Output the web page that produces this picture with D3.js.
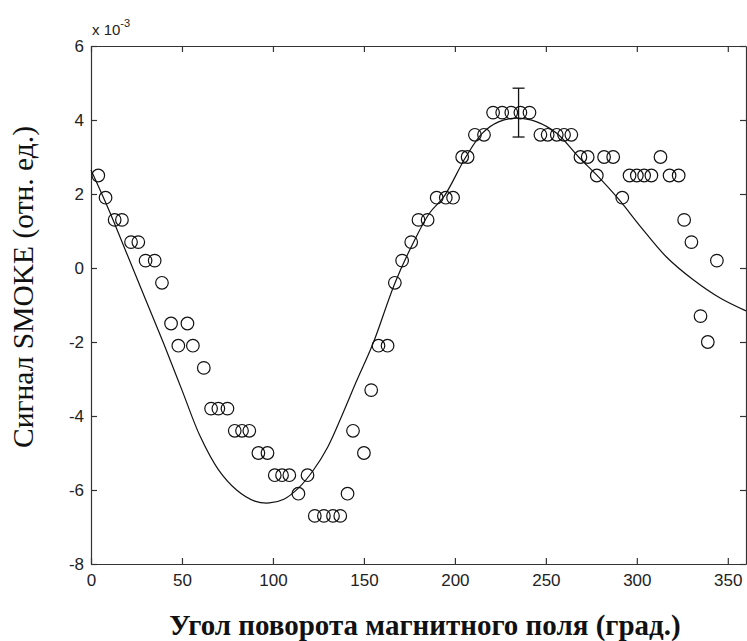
<!DOCTYPE html>
<html>
<head>
<meta charset="utf-8">
<script src="https://cdn.jsdelivr.net/npm/d3@7"></script>
<style>
  body { margin: 0; background: #fff; }
  svg { display: block; }
</style>
</head>
<body>
<svg id="chart"></svg>
<script>
// measured points (angle in degrees, signal in units of 1e-3)
var angles = [4, 8, 13, 17, 22, 26, 30, 35, 39, 44, 48, 53, 56, 62, 66, 70, 75, 79, 83, 87,
  92, 97, 101, 105, 109, 114, 119, 123, 128, 133, 137, 141, 144, 150, 154, 158, 163, 167, 171, 176,
  180, 185, 190, 195, 199, 204, 207, 211, 216, 221, 226, 231, 236, 241, 247, 251, 256, 260, 264, 269,
  273, 278, 282, 287, 292, 296, 300, 304, 308, 313, 318, 323, 326, 330, 335, 339, 344];
var signal = [2.5, 1.9, 1.3, 1.3, 0.7, 0.7, 0.2, 0.2, -0.4, -1.5, -2.1, -1.5, -2.1, -2.7, -3.8, -3.8, -3.8, -4.4, -4.4, -4.4,
  -5.0, -5.0, -5.6, -5.6, -5.6, -6.1, -5.6, -6.7, -6.7, -6.7, -6.7, -6.1, -4.4, -5.0, -3.3, -2.1, -2.1, -0.4, 0.2, 0.7,
  1.3, 1.3, 1.9, 1.9, 1.9, 3.0, 3.0, 3.6, 3.6, 4.2, 4.2, 4.2, 4.2, 4.2, 3.6, 3.6, 3.6, 3.6, 3.6, 3.0,
  3.0, 2.5, 3.0, 3.0, 1.9, 2.5, 2.5, 2.5, 2.5, 3.0, 2.5, 2.5, 1.3, 0.7, -1.3, -2.0, 0.2];

// fitted curve
var fitAngle = [0, 10, 20, 30, 40, 50, 60, 70, 80, 90, 98, 106, 114, 122, 130, 138, 146, 155, 167,
  177, 186, 194, 206, 215, 224, 234, 245, 256, 268, 278, 290, 302, 316, 331, 346, 360];
var fitSignal = [2.65, 1.55, 0.35, -0.85, -2.05, -3.3, -4.55, -5.45, -6.0, -6.3, -6.35, -6.25, -5.95, -5.48, -4.85, -3.98, -3.05, -2.04, -0.41,
  0.67, 1.48, 1.93, 3.0, 3.64, 3.95, 4.05, 3.95, 3.64, 3.0, 2.51, 1.86, 1.12, 0.31, -0.32, -0.82, -1.16];

// one error bar
var errAngle = [235];
var errLow = [3.54];
var errHigh = [4.86];

var xTicks = [0, 50, 100, 150, 200, 250, 300, 350];
var yTicks = [-8, -6, -4, -2, 0, 2, 4, 6];

var W = 747, H = 641;
var margin = {top: 46, right: 1, bottom: 77, left: 91};
var width = W - margin.left - margin.right;
var height = H - margin.top - margin.bottom;

var svg = d3.select('#chart').attr('width', W).attr('height', H);
var g = svg.append('g').attr('transform', 'translate(' + margin.left + ',' + margin.top + ')');

var x = d3.scaleLinear().domain([0, 360]).range([0, width]);
var y = d3.scaleLinear().domain([-8, 6]).range([height, 0]);

var tickFont = '"Liberation Sans", Arial, sans-serif';

function styleAxis(sel) {
  sel.select('.domain').attr('stroke', '#333').attr('stroke-width', 1.2);
  sel.selectAll('.tick line').attr('stroke', '#333').attr('stroke-width', 1.2);
  sel.selectAll('.tick text').attr('fill', '#222').style('font-family', tickFont).style('font-size', '17px');
}

g.append('g').attr('transform', 'translate(0,' + height + ')')
  .call(d3.axisBottom(x).tickValues(xTicks).tickSize(-6).tickSizeOuter(0).tickPadding(10))
  .call(styleAxis);
g.append('g')
  .call(d3.axisTop(x).tickValues(xTicks).tickSize(-6).tickSizeOuter(0).tickFormat(''))
  .call(styleAxis);
g.append('g')
  .call(d3.axisLeft(y).tickValues(yTicks).tickSize(-6).tickSizeOuter(0).tickPadding(7).tickFormat(d3.format('d')))
  .call(styleAxis);
g.append('g').attr('transform', 'translate(' + width + ',0)')
  .call(d3.axisRight(y).tickValues(yTicks).tickSize(-6).tickSizeOuter(0).tickFormat(''))
  .call(styleAxis);

// MATLAB uses a plain hyphen for minus
g.selectAll('.tick text').text(function() { return d3.select(this).text().replace('\u2212', '-'); });

// fit line
var line = d3.line()
  .x(function(d) { return x(d[0]); })
  .y(function(d) { return y(d[1]); })
  .curve(d3.curveCatmullRom);
g.append('path')
  .datum(fitAngle.map(function(a, i) { return [a, fitSignal[i]]; }))
  .attr('d', line)
  .attr('fill', 'none')
  .attr('stroke', '#111')
  .attr('stroke-width', 1.2);

// data circles
g.selectAll('circle.pt')
  .data(angles.map(function(a, i) { return {a: a, v: signal[i]}; }))
  .enter().append('circle')
  .attr('class', 'pt')
  .attr('cx', function(d) { return x(d.a); })
  .attr('cy', function(d) { return y(d.v); })
  .attr('r', 6.3)
  .attr('fill', 'none')
  .attr('stroke', '#111')
  .attr('stroke-width', 1.2);

// error bar
errAngle.forEach(function(a, i) {
  var eg = g.append('g').attr('stroke', '#111').attr('stroke-width', 1.3);
  eg.append('line').attr('x1', x(a)).attr('x2', x(a)).attr('y1', y(errLow[i])).attr('y2', y(errHigh[i]));
  eg.append('line').attr('x1', x(a) - 6).attr('x2', x(a) + 6).attr('y1', y(errLow[i])).attr('y2', y(errLow[i]));
  eg.append('line').attr('x1', x(a) - 6).attr('x2', x(a) + 6).attr('y1', y(errHigh[i])).attr('y2', y(errHigh[i]));
});

// exponent note
var ex = svg.append('text')
  .attr('x', margin.left + 1).attr('y', 35)
  .attr('fill', '#222')
  .style('font-family', tickFont).style('font-size', '15px');
ex.append('tspan').text('x 10');
ex.append('tspan').attr('dy', -8).style('font-size', '11px').text('-3');

// axis titles
var serif = '"Liberation Serif", "Times New Roman", serif';
svg.append('text')
  .attr('x', 425).attr('y', 635)
  .attr('text-anchor', 'middle')
  .style('font-family', serif).style('font-size', '29px').style('font-weight', 'bold')
  .attr('fill', '#111')
  .text('Угол поворота магнитного поля (град.)');

svg.append('text')
  .attr('transform', 'translate(33,287) rotate(-90)')
  .attr('text-anchor', 'middle')
  .style('font-family', serif).style('font-size', '29.5px')
  .attr('fill', '#111')
  .text('Сигнал SMOKE (отн. ед.)');
</script>
</body>
</html>
